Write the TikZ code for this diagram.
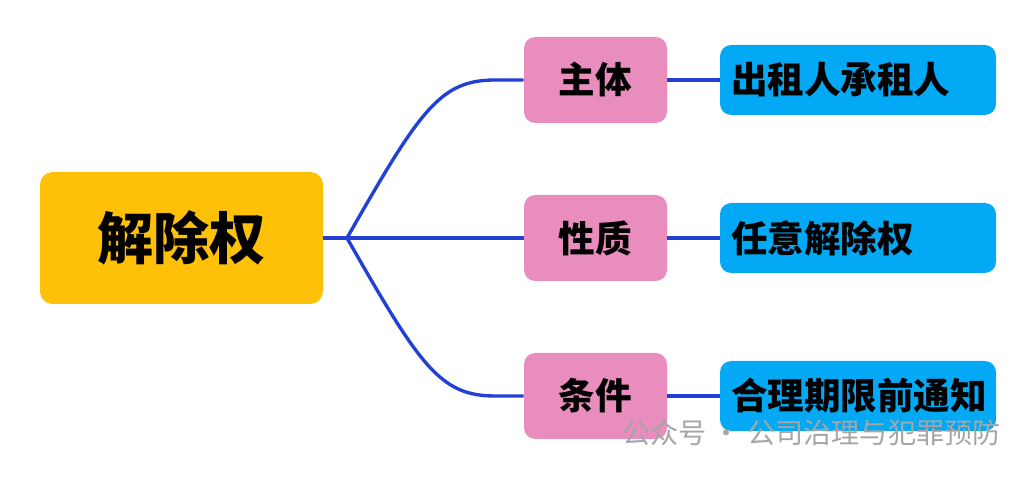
\documentclass[tikz,border=0pt]{standalone}
\usepackage{fontspec}
\setmainfont{Noto Sans CJK SC}
\definecolor{rootorange}{HTML}{FFC107}
\definecolor{midpink}{HTML}{E98DBE}
\definecolor{leafblue}{HTML}{03A9F4}
\definecolor{linkblue}{HTML}{2340D6}
\tikzset{
  rootbox/.style={fill=rootorange, rounded corners=9pt, minimum width=283*0.025cm, minimum height=132*0.025cm, font=\bfseries\fontsize{40}{46}\selectfont},
  midbox/.style={fill=midpink, rounded corners=8pt, minimum width=143*0.025cm, minimum height=86*0.025cm, font=\bfseries\fontsize{26}{30}\selectfont},
  leafbox/.style={fill=leafblue, rounded corners=8pt, minimum width=276*0.025cm, minimum height=70*0.025cm, text width=254*0.025cm, inner xsep=11*0.025cm, align=left, font=\bfseries\fontsize{26}{30}\selectfont},
  link/.style={draw=linkblue, line width=2.4pt}
}
\begin{document}
\begin{tikzpicture}[x=0.025cm, y=-0.025cm]
  \useasboundingbox (0,0) rectangle (1033,477);
  \node[rootbox] (root) at (181.5,238) {解除权};
  \coordinate (fork) at (347,238);
  \node[midbox] (m1) at (595.5,80) {主体};
  \node[midbox] (m2) at (595.5,238) {性质};
  \node[midbox] (m3) at (595.5,396) {条件};
  \node[leafbox] (l1) at (858,80) {出租人承租人};
  \node[leafbox] (l2) at (858,238) {任意解除权};
  \node[leafbox] (l3) at (858,396) {合理期限前通知};
  \draw[link] (root.east) -- (fork);
  \draw[link] (fork) .. controls (420,110) and (440,80) .. (495,80) -- (m1.west);
  \draw[link] (fork) -- (m2.west);
  \draw[link] (fork) .. controls (420,366) and (440,396) .. (495,396) -- (m3.west);
  \foreach \i in {1,2,3} \draw[link] (m\i.east) -- (l\i.west);
  \node[text=gray!70, font=\fontsize{20}{24}\selectfont, anchor=west, inner sep=0pt] (mark) at (622,433) {公众号 · 公司治理与犯罪预防};
\end{tikzpicture}
\end{document}
